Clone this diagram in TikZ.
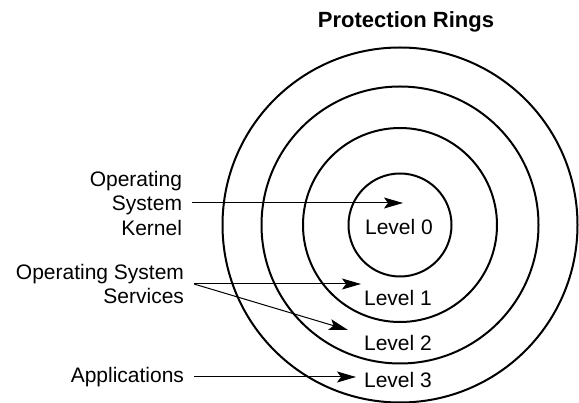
\documentclass[tikz,border=0pt]{standalone}
\usepackage{fontspec}
\setmainfont{Liberation Sans}
\usetikzlibrary{arrows.meta}

\begin{document}
\begin{tikzpicture}[
  x=1pt, y=-1pt,
  ring/.style={draw, circle, line width=2pt, inner sep=0pt},
  lbl/.style={align=right, inner sep=0pt, outer xsep=10pt, anchor=east,
    font=\fontsize{21}{24.5}\selectfont},
  level/.style={inner sep=0pt, font=\fontsize{21}{24.5}\selectfont},
  arrow/.style={line width=1pt, -{Stealth[length=19pt, width=11pt, inset=4pt]}}
]
\useasboundingbox (0,0) rectangle (579,403);

\node[font=\fontsize{22}{24.5}\selectfont\bfseries] (title) at (406,22) {Protection Rings};

% rings, inner to outer
\foreach \d [count=\i from 0] in {103,194,277,355}
  \node[ring, minimum size=\d pt] (ring\i) at (400,225) {};

\node[level] (lv0) at (399,227) {Level 0};
\node[level] (lv1) at (398,298) {Level 1};
\node[level] (lv2) at (398,343) {Level 2};
\node[level] (lv3) at (398,380) {Level 3};

\node[lbl] (kernel) at (192,203) {Operating\\System\\Kernel};
\node[lbl] (services) at (194,284) {Operating System\\Services};
\node[lbl] (apps) at (194,377) {Applications};

\coordinate (tip0) at (403,203);
\coordinate (tip1) at (361,284);
\coordinate (tip2) at (348,330);
\coordinate (tip3) at (356,377);

\draw[arrow] (kernel) -- (tip0);
\draw[arrow] (services) -- (tip1);
\draw[arrow] (services.east) -- (tip2);
\draw[arrow] (apps) -- (tip3);
\end{tikzpicture}
\end{document}
